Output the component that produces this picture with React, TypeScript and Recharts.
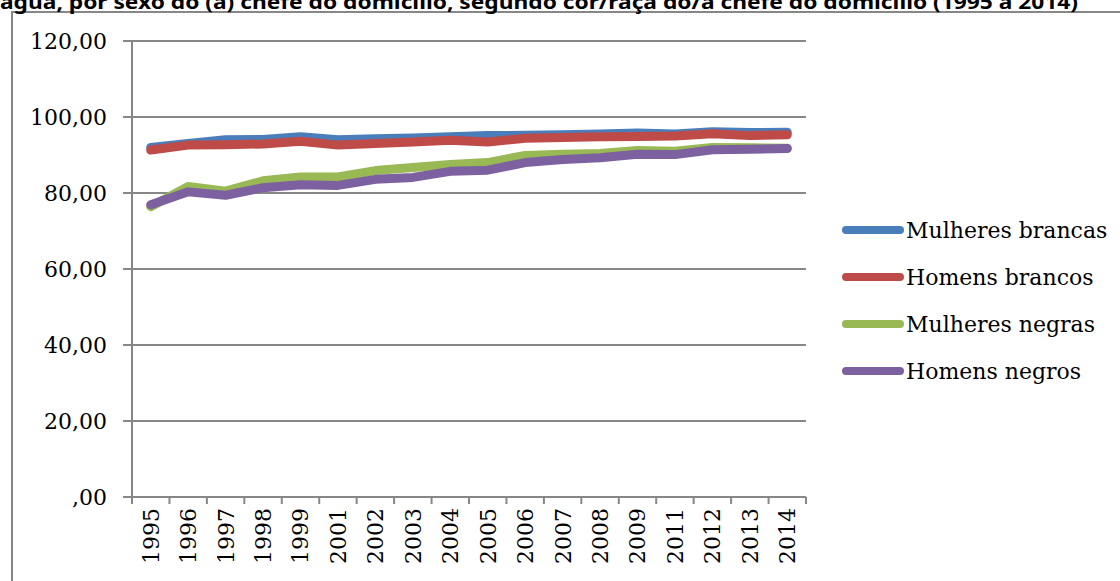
import React from 'react';
import { LineChart, Line, XAxis, YAxis, CartesianGrid } from 'recharts';

// Survey years (no PNAD in 2000 and 2010)
const years = ['1995', '1996', '1997', '1998', '1999', '2001', '2002', '2003', '2004', '2005', '2006', '2007', '2008', '2009', '2011', '2012', '2013', '2014'];

// Percentage of households, by sex and colour/race of the household head
const mulheresBrancas = [92.0, 93.0, 94.0, 94.1, 94.8, 94.0, 94.3, 94.5, 94.8, 95.1, 95.2, 95.3, 95.5, 95.8, 95.5, 96.1, 95.9, 96.0];
const homensBrancos = [91.3, 92.6, 92.7, 92.9, 93.6, 92.6, 93.0, 93.4, 93.9, 93.4, 94.4, 94.6, 94.8, 94.9, 95.0, 95.6, 95.1, 95.3];
const mulheresNegras = [76.4, 81.7, 80.5, 83.2, 84.2, 84.2, 85.9, 86.7, 87.5, 88.0, 89.9, 90.2, 90.4, 91.2, 91.0, 92.0, 91.9, 91.8];
const homensNegros = [76.9, 80.3, 79.4, 81.4, 82.2, 82.0, 83.6, 84.1, 85.7, 86.0, 88.0, 88.8, 89.3, 90.2, 90.1, 91.4, 91.5, 91.7];

const yTicks = [0, 20, 40, 60, 80, 100, 120];

const titleText = 'água, por sexo do (a) chefe do domicílio, segundo cor/raça do/a chefe do domicílio (1995 a 2014)';

const series = [
  { key: 'mb', name: 'Mulheres brancas', color: '#4A7EBB', values: mulheresBrancas },
  { key: 'hb', name: 'Homens brancos', color: '#BE4B48', values: homensBrancos },
  { key: 'mn', name: 'Mulheres negras', color: '#98B954', values: mulheresNegras },
  { key: 'hn', name: 'Homens negros', color: '#7D60A0', values: homensNegros },
];

// pos = centre of each year's slot on the boundary axis (slot i spans i..i+1)
const data = years.map((year, i) => {
  const row: Record<string, string | number> = { year, pos: i + 0.5 };
  series.forEach((s) => {
    row[s.key] = s.values[i];
  });
  return row;
});

const W = 1120;
const H = 581;
const PLOT_LEFT = 132;
const PLOT_TOP = 41;
const PLOT_RIGHT = 806;
const PLOT_BOTTOM = 497;
const MARK_AXIS_H = 1;
const GRID = '#878787';
const SERIF = '"DejaVu Serif", serif';

// Category boundaries: tick marks sit between the years, points at the centres
const boundaryTicks = Array.from({ length: years.length + 1 }, (_, i) => i);
const halfBand = (PLOT_RIGHT - PLOT_LEFT) / years.length / 2;

const fmt = (v: number) => (v === 0 ? ',00' : v.toFixed(2).replace('.', ','));

const YearTick = (props: any) => {
  const { x, y, payload } = props;
  const ty = y + 10;
  return (
    <text
      x={x}
      y={ty}
      transform={`rotate(-90 ${x} ${ty})`}
      textAnchor="end"
      dy="0.36em"
      fill="#000"
      fontFamily={SERIF}
      fontSize={22}
    >
      {payload.value}
    </text>
  );
};

// Boundary axis only shows tick marks, no labels
const EmptyTick = () => <g />;

const LegendBox = () => (
  <svg width={W} height={H} style={{ position: 'absolute', left: 0, top: 0, pointerEvents: 'none' }}>
    {series.map((s, i) => {
      const cy = 230 + i * 47;
      return (
        <g key={s.key}>
          <line x1={846} y1={cy} x2={900} y2={cy} stroke={s.color} strokeWidth={8} strokeLinecap="round" />
          <text x={906} y={cy} dy="0.36em" fill="#000" fontFamily={SERIF} fontSize={22}>
            {s.name}
          </text>
        </g>
      );
    })}
  </svg>
);

export default function App() {
  return (
    <div style={{ position: 'absolute', left: 0, top: 0, width: W, height: H, overflow: 'hidden', background: '#fff' }}>
      <div
        style={{
          position: 'absolute',
          left: 11,
          top: 11,
          width: W + 100,
          height: H + 100,
          border: `2px solid ${GRID}`,
          boxSizing: 'border-box',
        }}
      />
      <svg width={W} height={30} style={{ position: 'absolute', left: 0, top: 0 }}>
        <text
          x={0}
          y={8.5}
          fontFamily='"Noto Sans", sans-serif'
          fontWeight="bold"
          fontSize={20}
          fill="#000"
          textLength={1078}
          lengthAdjust="spacingAndGlyphs"
        >
          {titleText}
        </text>
      </svg>
      <div style={{ position: 'absolute', left: 0, top: 0 }}>
        <LineChart
          width={W}
          height={H}
          data={data}
          margin={{ top: PLOT_TOP, right: W - PLOT_RIGHT, bottom: 0, left: 0 }}
        >
          <CartesianGrid vertical={false} stroke={GRID} strokeWidth={2} />
          <XAxis
            xAxisId={0}
            dataKey="pos"
            type="number"
            domain={[0, years.length]}
            ticks={boundaryTicks}
            interval={0}
            allowDataOverflow
            height={MARK_AXIS_H}
            tick={<EmptyTick />}
            tickSize={7}
            axisLine={{ stroke: GRID, strokeWidth: 2 }}
            tickLine={{ stroke: GRID, strokeWidth: 2 }}
          />
          <XAxis
            xAxisId="years"
            dataKey="year"
            type="category"
            interval={0}
            padding={{ left: halfBand, right: halfBand }}
            height={H - PLOT_BOTTOM - MARK_AXIS_H}
            axisLine={false}
            tickLine={false}
            tickSize={0}
            tickMargin={0}
            tick={<YearTick />}
          />
          <YAxis
            type="number"
            domain={[0, 120]}
            ticks={yTicks}
            interval={0}
            width={PLOT_LEFT}
            tickFormatter={fmt}
            tickSize={9}
            tickMargin={16}
            axisLine={{ stroke: GRID, strokeWidth: 2 }}
            tickLine={{ stroke: GRID, strokeWidth: 2 }}
            tick={{ fill: '#000', fontFamily: SERIF, fontSize: 22 }}
          />
          {series.map((s) => (
            <Line
              key={s.key}
              xAxisId="years"
              type="linear"
              dataKey={s.key}
              name={s.name}
              stroke={s.color}
              strokeWidth={9}
              strokeLinecap="round"
              strokeLinejoin="round"
              dot={false}
              activeDot={false}
              isAnimationActive={false}
            />
          ))}
        </LineChart>
      </div>
      <LegendBox />
    </div>
  );
}
